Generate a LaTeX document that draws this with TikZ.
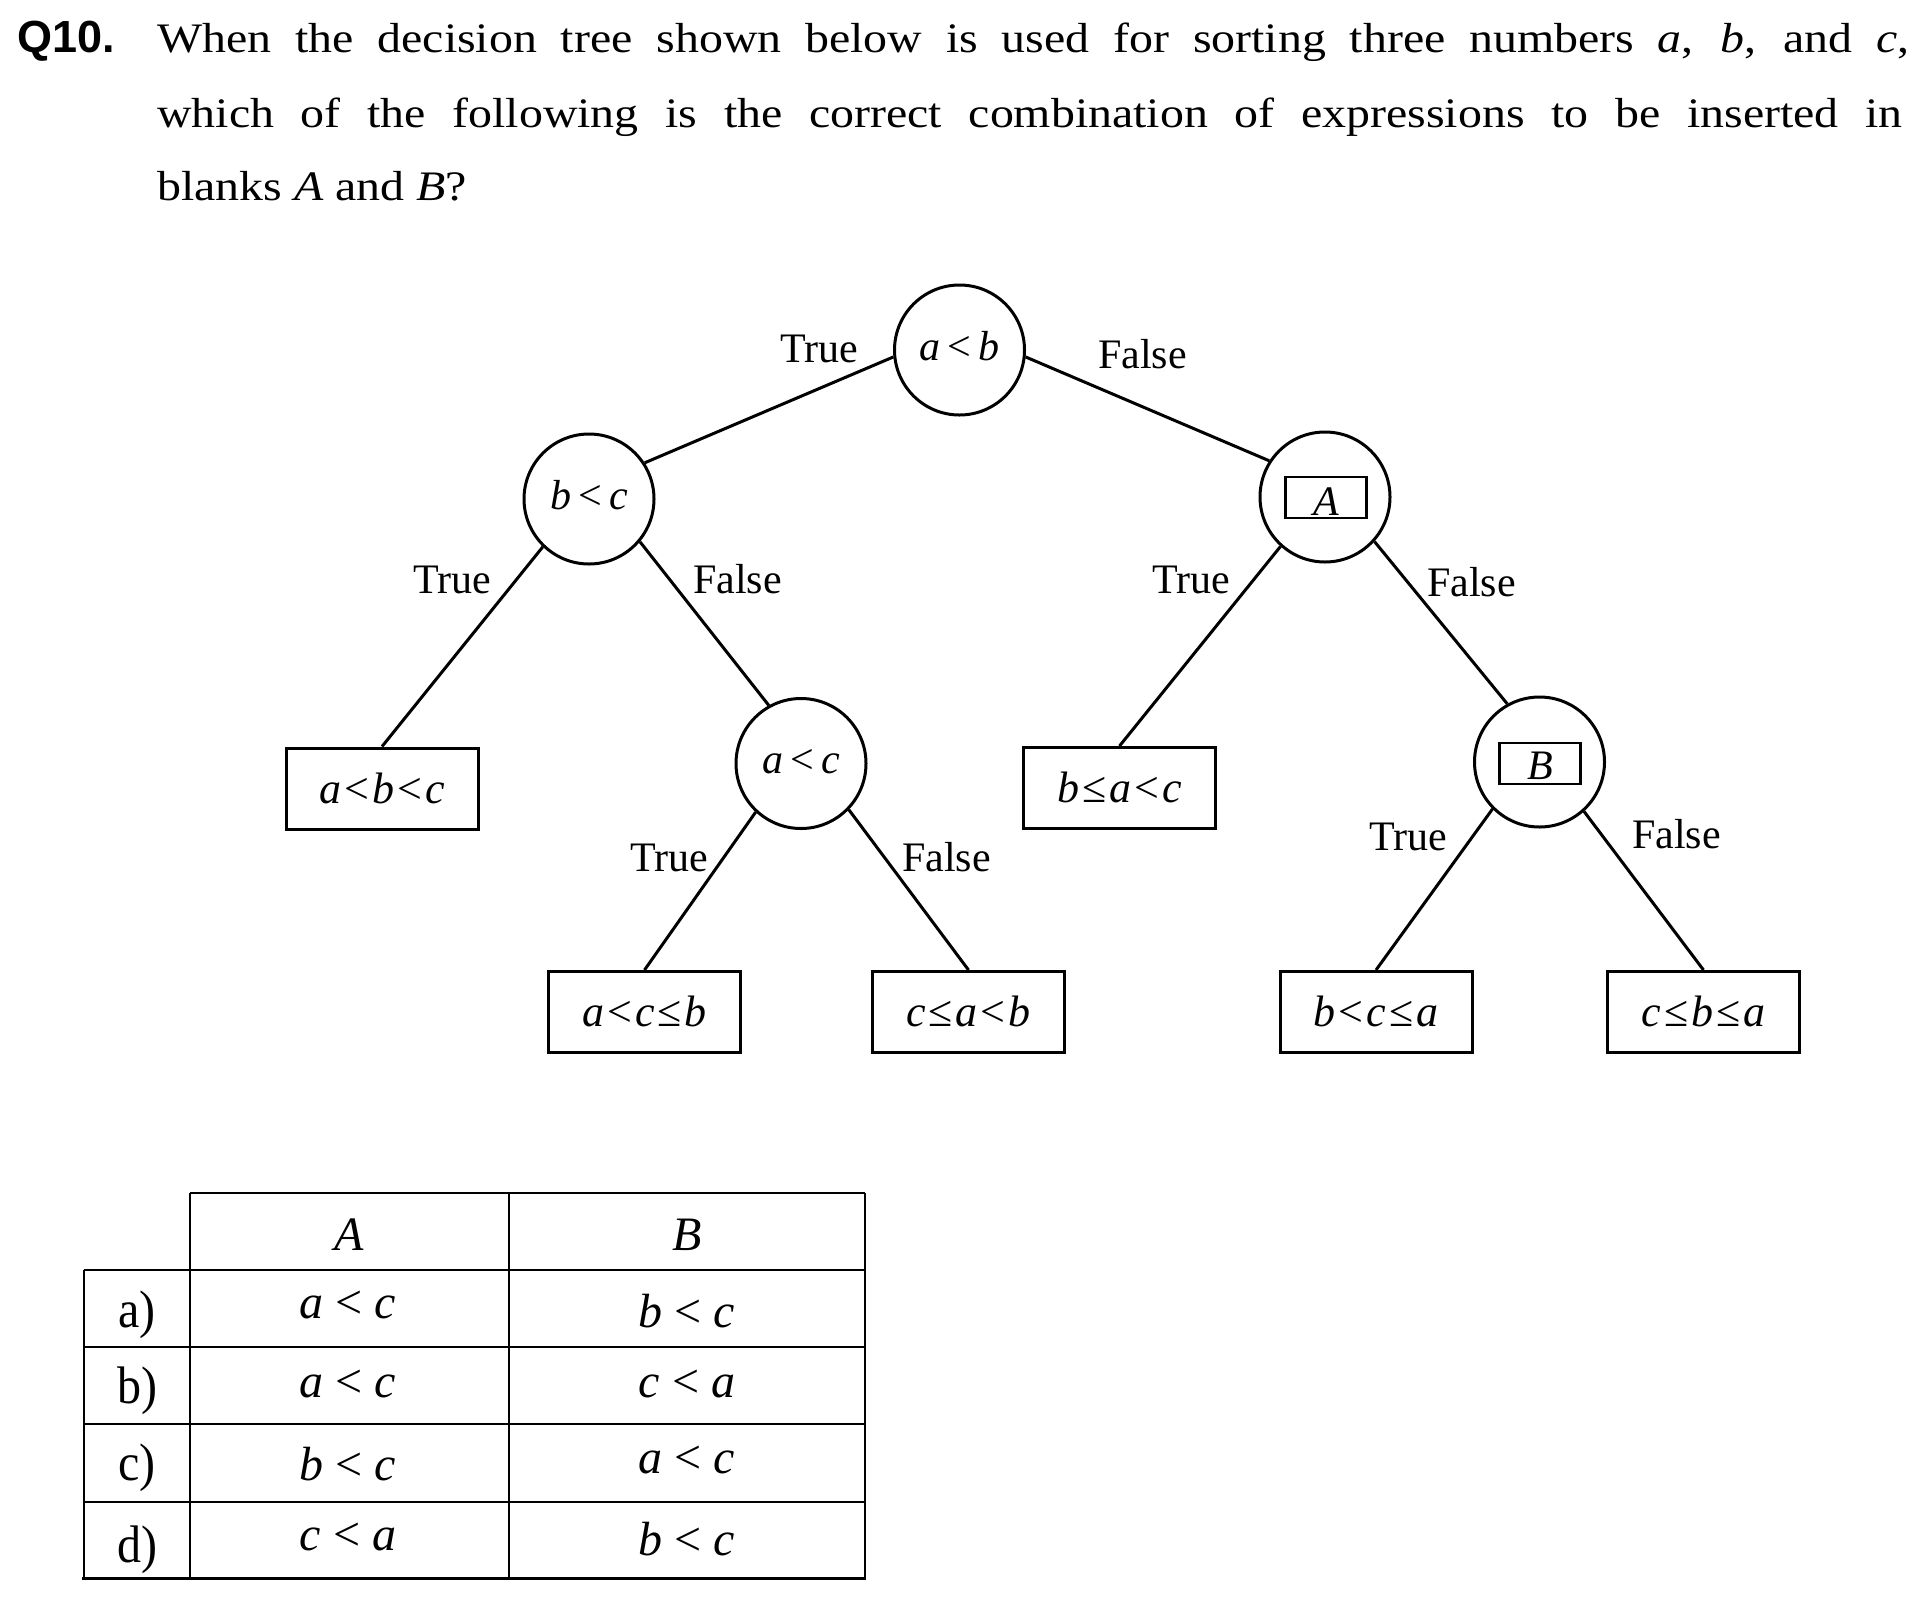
\documentclass[tikz,border=0pt]{standalone}
\usepackage{graphicx}
\usepackage{fontspec}
\setmainfont{Liberation Serif}
\newfontfamily\qfont{Liberation Sans}
\newcommand\itl[1]{\textit{#1}}
\newcommand\rl{\kern3pt<\kern3pt}
\newcommand\rle{\kern3pt≤\kern3pt}
\newcommand\wide[1]{\scalebox{1.14}[1]{#1}}
\begin{document}
\begin{tikzpicture}[x=1pt,y=-1pt,
  dnode/.style={circle, draw, line width=3pt, minimum size=130pt, inner sep=0pt,
    text height=20pt, text depth=0pt, font=\fontsize{42}{50}\selectfont},
  leaf/.style={rectangle, draw, line width=3pt, minimum width=192pt, minimum height=81pt,
    inner sep=0pt, text height=29pt, text depth=0pt, font=\fontsize{44}{50}\selectfont},
  blankbox/.style={rectangle, draw, line width=2.7pt, minimum width=81pt, minimum height=41pt,
    inner sep=0pt, text height=35pt, text depth=0pt, font=\fontsize{42}{50}\selectfont},
  lbl/.style={anchor=base west, inner sep=0pt, font=\fontsize{42}{50}\selectfont},
  conn/.style={line width=3pt},
  tline/.style={line width=2pt},
  ttxt/.style={anchor=base, inner sep=0pt, font=\fontsize{48}{56}\selectfont},
  tlab/.style={anchor=base, inner sep=0pt, font=\fontsize{48}{56}\selectfont},
  title/.style={anchor=base west, inner sep=0pt, font=\fontsize{42}{50}\selectfont}
]
\useasboundingbox (0,0) rectangle (1920,1596);
\fill[white] (0,0) rectangle (1920,1596);

% ---- question text
\node[anchor=base west, inner sep=0pt, font=\fontsize{45}{50}\selectfont\qfont\bfseries] (q) at (17,52) {Q10.};
\node[title] (t1) at (157,52) {\wide{\makebox[1537pt][s]{When the decision tree shown below is used for sorting three numbers \itl{a}, \itl{b}, and \itl{c},}}};
\node[title] (t2) at (157,127) {\wide{\makebox[1531pt][s]{which of the following is the correct combination of expressions to be inserted in}}};
\node[title] (t3) at (157,200) {\wide{blanks \itl{A} and \itl{B}?}};

% ---- tree nodes
\node[dnode] (R)  at (959.5,350) {\itl{a}\,<\,\itl{b}};
\node[dnode] (N1) at (589,499) {\itl{b}\,<\,\itl{c}};
\node[dnode] (NA) at (1325,497) {};
\node[blankbox] (BA) at (1326,497.5) {\itl{A}};
\node[dnode] (N2) at (801,763.5) {\itl{a}\,<\,\itl{c}};
\node[dnode] (NB) at (1539.5,762) {};
\node[blankbox, text height=31pt] (BB) at (1540,763.5) {\itl{B}};

\node[leaf] (L1) at (382,788.5) {\itl{a}\rl\itl{b}\rl\itl{c}};
\node[leaf] (L2) at (1119.5,788) {\itl{b}\rle\itl{a}\rl\itl{c}};
\node[leaf] (L3) at (644.5,1012) {\itl{a}\rl\itl{c}\rle\itl{b}};
\node[leaf] (L4) at (968.5,1012) {\itl{c}\rle\itl{a}\rl\itl{b}};
\node[leaf] (L5) at (1376,1012) {\itl{b}\rl\itl{c}\rle\itl{a}};
\node[leaf] (L6) at (1703.5,1012) {\itl{c}\rle\itl{b}\rle\itl{a}};

% ---- connectors
\draw[conn] (R.186) -- (N1.33);
\draw[conn] (R.354) -- (NA.147);
\draw[conn] (N1.226) -- (L1.north);
\draw[conn] (N1.320) -- (N2.119);
\draw[conn] (NA.228) -- (L2.north);
\draw[conn] (NA.318) -- (NB.119);
\draw[conn] (N2.227) -- (L3.north);
\draw[conn] (N2.316) -- (L4.north);
\draw[conn] (NB.225) -- (L5.north);
\draw[conn] (NB.312) -- (L6.north);

% ---- edge labels
\node[lbl] (lRt) at (780,362) {True};
\node[lbl] (lRf) at (1098,368) {False};
\node[lbl] (l1t) at (413,593) {True};
\node[lbl] (l1f) at (693,593) {False};
\node[lbl] (lAt) at (1152,593) {True};
\node[lbl] (lAf) at (1427,596) {False};
\node[lbl] (l2t) at (630,871) {True};
\node[lbl] (l2f) at (902,871) {False};
\node[lbl] (lBt) at (1369,850) {True};
\node[lbl] (lBf) at (1632,848) {False};

% ---- answer table
\draw[tline] (190,1193) -- (865,1193);
\draw[tline] (84,1270) -- (865,1270);
\draw[tline] (84,1347) -- (865,1347);
\draw[tline] (84,1424) -- (865,1424);
\draw[tline] (84,1502) -- (865,1502);
\draw[line width=3pt] (82,1578) -- (866,1578);
\draw[tline] (84,1270) -- (84,1578);
\draw[tline] (190,1193) -- (190,1578);
\draw[tline] (509,1193) -- (509,1578);
\draw[tline] (865,1193) -- (865,1578);

\node[ttxt] (hA) at (349.5,1250) {\itl{A}};
\node[ttxt] (hB) at (687,1250) {\itl{B}};

\node[tlab] (ra) at (137,1327) {\scalebox{1}[1.1]{a)}};
\node[tlab] (rb) at (137,1403) {\scalebox{1}[1.1]{b)}};
\node[tlab] (rc) at (137,1480) {\scalebox{1}[1.1]{c)}};
\node[tlab] (rd) at (137,1562) {\scalebox{1}[1.1]{d)}};

\node[ttxt] (aA) at (348,1318) {\itl{a} < \itl{c}};
\node[ttxt] (aB) at (687,1327) {\itl{b} < \itl{c}};
\node[ttxt] (bA) at (348,1397) {\itl{a} < \itl{c}};
\node[ttxt] (bB) at (687,1397) {\itl{c} < \itl{a}};
\node[ttxt] (cA) at (348,1480) {\itl{b} < \itl{c}};
\node[ttxt] (cB) at (687,1473) {\itl{a} < \itl{c}};
\node[ttxt] (dA) at (348,1550) {\itl{c} < \itl{a}};
\node[ttxt] (dB) at (687,1555) {\itl{b} < \itl{c}};
\end{tikzpicture}
\end{document}
